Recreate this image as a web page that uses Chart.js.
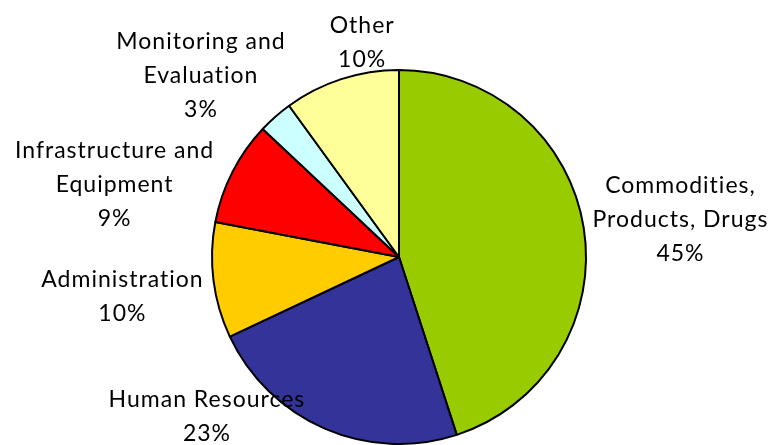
<!DOCTYPE html>
<html>
<head>
<meta charset="utf-8">
<script src="https://cdn.jsdelivr.net/npm/chart.js@4/dist/chart.umd.min.js"></script>
<style>
  html, body { margin: 0; padding: 0; background: #fff; }
  #wrap { width: 768px; height: 445px; position: relative; }
</style>
</head>
<body>
<div id="wrap"><canvas id="pieChart"></canvas></div>
<script>
// slice data, clockwise from 12 o'clock
const categories = ['Commodities, Products, Drugs', 'Human Resources', 'Administration',
    'Infrastructure and Equipment', 'Monitoring and Evaluation', 'Other'];
const shares = [45, 23, 10, 9, 3, 10];
// how each label is broken into lines
const labelLines = [
    ['Commodities,', 'Products, Drugs'],
    ['Human Resources'],
    ['Administration'],
    ['Infrastructure and', 'Equipment'],
    ['Monitoring and', 'Evaluation'],
    ['Other']
];
const sliceColors = ['#99CC00', '#333399', '#FFCC00', '#FF0000', '#CCFFFF', '#FFFF99'];

// label centre, offset from pie centre in units of radius
const labelOffsets = [
    [1.505, -0.2], [-1.027, 0.856], [-1.479, 0.213],
    [-1.521, -0.388], [-1.059, -0.968], [-0.197, -1.149]
];

const labelPlugin = {
    id: 'outsideLabels',
    afterDraw(chart) {
        const ctx = chart.ctx;
        const arcs = chart.getDatasetMeta(0).data;
        ctx.save();
        ctx.font = '23px Lato';
        ctx.letterSpacing = '1px';
        ctx.fillStyle = '#000';
        ctx.textAlign = 'center';
        ctx.textBaseline = 'middle';
        const lh = 34;
        arcs.forEach((arc, i) => {
            const r = arc.outerRadius;
            const cx = arc.x + labelOffsets[i][0] * r;
            const cy = arc.y + labelOffsets[i][1] * r;
            const lines = labelLines[i].concat([shares[i] + '%']);
            const top = cy - (lines.length - 1) * lh / 2;
            lines.forEach((t, k) => ctx.fillText(t, cx, top + k * lh));
        });
        ctx.restore();
    }
};

new Chart(document.getElementById('pieChart'), {
    type: 'pie',
    data: {
        labels: categories,
        datasets: [{
            data: shares,
            backgroundColor: sliceColors,
            borderColor: '#000',
            borderWidth: 2,
            hoverOffset: 0
        }]
    },
    options: {
        responsive: true,
        maintainAspectRatio: false,
        animation: false,
        layout: { padding: { top: 69, bottom: 0, left: 30, right: 0 } },
        plugins: {
            legend: { display: false },
            tooltip: { enabled: false }
        }
    },
    plugins: [labelPlugin]
});
</script>
</body>
</html>
